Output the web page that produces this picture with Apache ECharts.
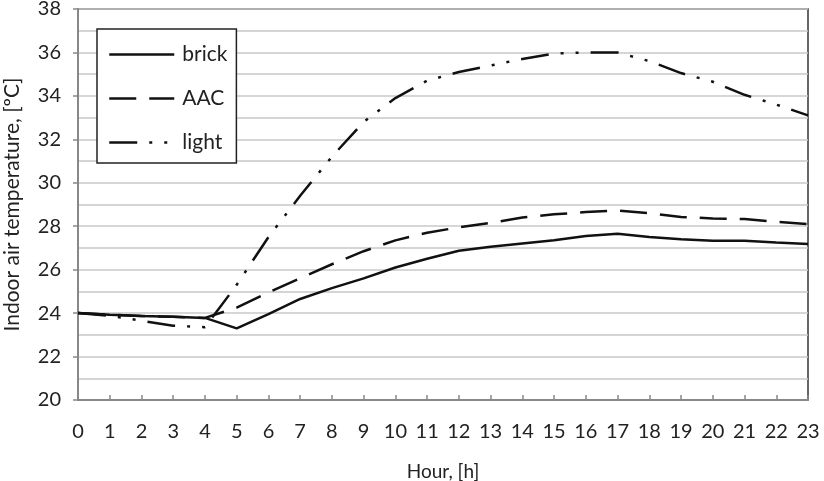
<!DOCTYPE html>
<html>
<head>
<meta charset="utf-8">
<script src="https://cdn.jsdelivr.net/npm/echarts@6/dist/echarts.min.js"></script>
<style>
  html, body { margin: 0; padding: 0; background: #fff; }
  #chart { width: 824px; height: 481px; }
</style>
</head>
<body>
<div id="chart"></div>
<script>
// hours of the day
const hours = [0, 1, 2, 3, 4, 5, 6, 7, 8, 9, 10, 11, 12, 13, 14, 15, 16, 17, 18, 19, 20, 21, 22, 23];

// indoor air temperature [ºC]
const brick = [24.0, 23.93, 23.87, 23.83, 23.78, 23.3, 23.95, 24.65, 25.15, 25.6, 26.1, 26.5,
  26.87, 27.05, 27.2, 27.35, 27.55, 27.65, 27.5, 27.4, 27.33, 27.33, 27.25, 27.18];
const aac = [24.0, 23.93, 23.87, 23.83, 23.78, 24.25, 24.95, 25.6, 26.25, 26.85, 27.35, 27.7,
  27.95, 28.15, 28.4, 28.55, 28.65, 28.72, 28.6, 28.42, 28.36, 28.33, 28.2, 28.1];
const light = [24.0, 23.88, 23.65, 23.42, 23.35, 25.3, 27.5, 29.4, 31.2, 32.8, 33.9, 34.7,
  35.1, 35.4, 35.7, 35.95, 36.0, 36.0, 35.6, 35.05, 34.65, 34.05, 33.6, 33.1];

const font = "Lato";
const textColor = "#222";
const dashAAC = [27, 13];
const dashLight = [28, 12, 3, 12, 3, 12];

const chart = echarts.init(document.getElementById("chart"));

function line(name, data, type) {
  return {
    name: name,
    type: "line",
    data: data,
    symbol: "none",
    animation: false,
    lineStyle: { color: "#111", width: 2.5, type: type, cap: "butt" },
    itemStyle: { color: "#111" },
  };
}

chart.setOption({
  textStyle: { fontFamily: font },
  grid: {
    left: 78,
    right: 16,
    top: 9,
    bottom: 81,
    outerBoundsMode: "none",
    containLabel: false,
    show: true,
    borderColor: "#333",
    borderWidth: 1.5,
  },
  legend: {
    orient: "vertical",
    left: 97,
    top: 29,
    padding: [15, 9, 10, 11],
    itemWidth: 65,
    itemHeight: 14,
    itemGap: 23,
    borderColor: "#222",
    borderWidth: 1.5,
    backgroundColor: "#fff",
    itemStyle: { opacity: 0 },
    textStyle: { fontFamily: font, fontSize: 21, color: textColor, padding: [0, 0, 0, 3] },
    data: [
      { name: "brick", lineStyle: { type: "solid", width: 2.5, color: "#111" } },
      { name: "AAC", lineStyle: { type: dashAAC, width: 2.5, color: "#111" } },
      { name: "light", lineStyle: { type: dashLight, width: 2.5, color: "#111" } },
    ],
  },
  xAxis: {
    type: "category",
    data: hours,
    boundaryGap: false,
    name: "Hour, [h]",
    nameLocation: "middle",
    nameGap: 62,
    nameTextStyle: { fontFamily: font, fontSize: 19, color: textColor },
    axisLine: { lineStyle: { color: "#888", width: 2 } },
    axisTick: { inside: true, length: 5, lineStyle: { color: "#888", width: 1.5 } },
    axisLabel: { fontFamily: font, fontSize: 20, color: textColor, margin: 22, interval: 0 },
    splitLine: { show: false },
  },
  yAxis: {
    type: "value",
    min: 20,
    max: 38,
    interval: 2,
    name: "Indoor air temperature, [ºC]",
    nameLocation: "middle",
    nameGap: 55,
    nameTextStyle: { fontFamily: font, fontSize: 21, color: textColor },
    axisLine: { show: true, lineStyle: { color: "#888", width: 2 } },
    axisTick: { show: true, length: 5, lineStyle: { color: "#888", width: 1.5 } },
    axisLabel: { fontFamily: font, fontSize: 20, color: textColor, margin: 17 },
    splitLine: { lineStyle: { color: "#c8c8c8", width: 1.5 } },
    minorTick: { show: false, splitNumber: 2 },
    minorSplitLine: { show: true, lineStyle: { color: "#c8c8c8", width: 1.5 } },
  },
  series: [
    line("brick", brick, "solid"),
    line("AAC", aac, dashAAC),
    line("light", light, dashLight),
  ],
});
</script>
</body>
</html>
